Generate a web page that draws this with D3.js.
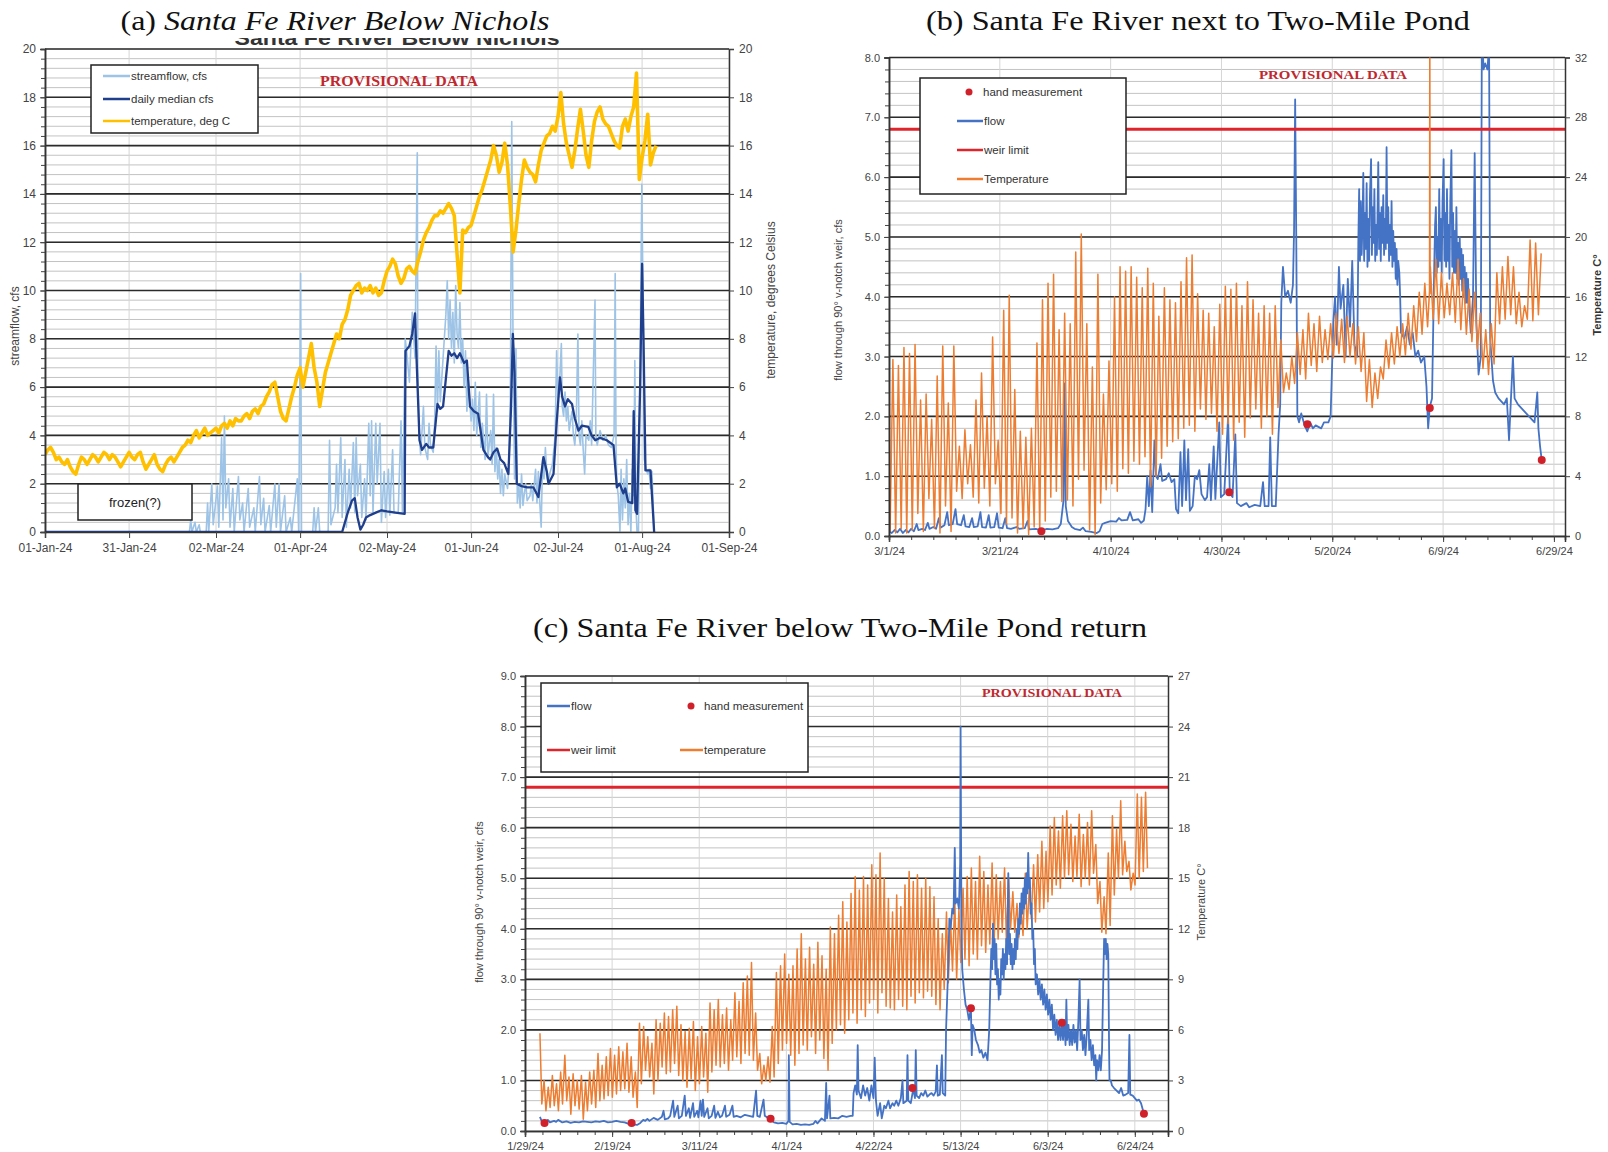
<!DOCTYPE html>
<html>
<head>
<meta charset="utf-8">
<script src="https://cdn.jsdelivr.net/npm/d3@7"></script>
<style>
  body { margin: 0; background: #fff; }
  svg { display: block; }
</style>
</head>
<body>
<div id="chart"></div>
<script>
const parse = d3.timeParse("%Y-%m-%d");
const DAY = 864e5;

// ---------- (a) Santa Fe River Below Nichols (day offsets from 1 Jan 2024) ----------
const ticksA = ["2024-01-01","2024-01-31","2024-03-02","2024-04-01","2024-05-02","2024-06-01","2024-07-02","2024-08-01","2024-09-01"];
// daily water temperature, deg C
const tempA = [
  3.2,3.4,3.5,3.3,3.0,3.1,2.9,2.8,3.0,2.7,
  2.5,2.4,2.8,3.1,3.0,2.8,3.0,3.2,3.1,2.9,
  3.1,3.3,3.2,3.0,3.2,3.1,2.9,2.7,2.9,3.1,
  3.3,3.1,3.0,3.2,3.3,2.9,2.6,2.8,3.0,3.2,
  2.8,2.6,2.5,2.8,3.0,3.1,2.9,3.1,3.3,3.5,
  3.6,3.8,3.7,4.0,4.2,3.9,4.1,4.3,4.0,4.1,
  4.2,4.3,4.1,4.4,4.5,4.3,4.6,4.4,4.7,4.6,
  4.6,4.8,4.9,4.7,5.0,5.1,4.9,5.2,5.3,5.6,
  5.8,6.1,6.2,5.6,5.0,4.7,4.6,5.1,5.6,6.0,
  6.5,6.8,6.0,6.6,7.2,7.8,6.8,6.2,5.2,5.9,
  6.6,7.0,7.4,7.8,8.2,8.0,8.6,8.8,9.2,9.8,
  10.0,10.2,10.3,9.9,10.1,10.0,10.2,9.9,10.1,9.8,
  9.9,10.4,10.8,11.0,11.3,11.1,10.6,10.3,10.5,10.9,
  11.0,10.8,10.7,11.2,11.6,12.1,12.4,12.6,12.9,13.1,
  13.1,13.3,13.2,13.4,13.6,13.4,13.1,11.5,9.9,12.5,
  12.4,12.6,12.7,13.1,13.5,13.9,14.2,14.6,15.0,15.4,
  16.0,15.6,14.9,15.3,16.1,15.2,13.5,11.6,12.5,13.6,
  14.6,15.4,15.1,14.9,14.8,14.5,15.2,15.8,16.1,16.4,
  16.5,16.8,16.6,17.2,18.2,16.9,16.1,15.6,15.1,15.8,
  16.7,17.5,16.6,15.6,15.1,16.2,17.0,17.4,17.6,17.1,
  16.9,16.8,16.5,16.2,16.0,15.9,16.8,17.1,16.6,17.2,
  17.6,19.0,14.6,15.5,16.2,17.3,15.2,15.7,16.0
];
// streamflow, cfs [day, value]
const streamA = [
  [0,0],[51.5,0],[52,0.5],[52.4,0],[53.5,0.4],[54,0],[55,0.3],[55.4,0],[57.5,0],[58,1.2],[58.4,0],
  [59.5,2.0],[60,0.3],[61.5,1.9],[62,0.2],[63,3.9],[63.5,0.5],[64,4.8],[64.5,1.0],[65.5,2.2],[66,0.2],
  [67,1.8],[67.5,0],[69,2.3],[69.5,0.5],[70.5,1.2],[71,0],[72.5,1.8],[73,0.2],[74.5,1.0],[75,0],
  [76.5,2.3],[77,0.3],[78,1.4],[78.5,0],[80,1.1],[80.5,0],[82,2.0],[82.5,0.2],[83.5,2.0],[84,0],
  [85.5,1.5],[86,0],[87.5,0.6],[88,0],[90,2.2],[90.5,0],[91.2,10.7],[91.5,0],[95.5,0],[96,1.0],
  [96.5,0],[97.5,1.0],[98,0],[101,0],[101.5,3.8],[102,0.3],[103.5,1.0],[104,2.8],[104.5,0.8],
  [105.5,3.9],[106,0.6],[107,3.0],[107.5,0.2],[108.5,2.6],[109,1.0],[110,3.7],[110.5,0.8],[111,3.9],
  [111.5,1.5],[112.5,2.8],[113,0.6],[114,2.2],[114.5,0.5],[115.5,4.5],[116,1.5],[116.5,4.6],[117,0.8],
  [118,4.5],[118.5,2.0],[119.5,4.5],[120,0.4],[121,2.5],[121.5,0.6],[122.5,2.6],[123,0.7],[124,3.4],
  [124.5,0.8],[126,0.8],[127,4.6],[127.5,0.8],[128.5,8.0],[129,7.5],[130,6.2],[131,9.1],[132,7.2],
  [132.8,15.7],[133,6.6],[133.5,4.0],[134,3.2],[135,5.2],[135.5,3.5],[136.5,3.0],[137,4.5],[137.5,3.6],
  [138.5,3.3],[139,4.5],[139.5,7.7],[140,5.0],[140.5,7.5],[141,5.4],[142,7.2],[143,9.0],[143.5,10.4],
  [144,8.0],[144.5,9.6],[145,7.6],[145.5,9.1],[146,7.0],[146.5,10.2],[147,8.2],[147.5,7.6],[148,9.5],
  [148.5,7.0],[149,8.0],[149.5,6.0],[150,7.5],[150.5,5.0],[151,6.3],[152,4.6],[152.5,5.5],[153,4.2],
  [153.5,6.2],[154,4.0],[155,5.8],[155.5,3.5],[156,4.5],[157,3.0],[157.5,5.7],[158,3.1],[159,4.2],
  [159.5,2.8],[160,5.7],[160.5,2.5],[161,3.5],[161.5,2.2],[162,3.0],[162.5,1.6],[163,2.6],[163.5,1.5],
  [164,2.4],[165,1.8],[165.5,2.8],[166,5.5],[166.5,17.0],[167,7.0],[167.5,2.2],[168,7.6],[168.5,1.2],
  [169,2.0],[169.5,1.0],[170,2.4],[170.5,1.1],[171,1.6],[171.5,2.0],[172,1.3],[173,1.5],[173.5,2.0],
  [174,1.3],[175,2.6],[175.5,1.2],[176,2.5],[176.5,1.2],[177,0.2],[177.5,3.0],[178,2.2],[178.5,3.5],
  [179,2.4],[179.5,2.0],[180,2.4],[181,2.8],[182,4.0],[182.5,7.5],[183,5.5],[183.5,6.0],[184.2,7.8],
  [184.5,5.2],[185,4.8],[185.5,5.8],[186,4.6],[186.5,5.2],[187,4.2],[188,5.0],[188.5,4.0],[189,3.6],
  [189.5,4.5],[190.1,8.2],[190.5,4.0],[191,3.6],[191.5,4.6],[192,3.4],[192.5,2.4],[193,4.0],[194,3.8],
  [194.5,4.6],[195,3.6],[196.2,9.6],[196.5,4.0],[197,3.6],[198,4.2],[199,3.8],[200,4.0],[201,3.6],
  [202,3.5],[203,4.0],[203.4,10.7],[203.7,3.5],[204,2.0],[204.5,1.5],[205.1,0],[205.5,2.6],[206,0.5],
  [206.5,2.2],[207,1.0],[207.5,3.0],[208,0.3],[208.5,1.6],[209,0.0],[209.5,2.6],[210,1.5],[210.4,7.1],
  [210.8,1.0],[211.2,0],[211.7,0],[212.3,7.0],[212.9,14.4],[213.3,10],[213.8,3.0],[214.5,2.6],[215,2.4],
  [215.5,2.6],[216,1.8],[216.5,2.5],[217,1.0],[217.3,0]
];
// daily median, cfs [day, value]
const medianA = [
  [0,0],[106,0],[108,0.8],[109.5,1.3],[110.5,1.4],[111.5,0.6],[112.5,0.1],[113.5,0.3],[114.5,0.6],
  [116,0.7],[118,0.8],[120,0.9],[122,0.85],[125,0.8],[128.3,0.75],[128.6,7.5],[130,7.7],[131,8.2],
  [132,9.05],[132.6,7.0],[133.6,3.8],[134.5,3.4],[136,3.65],[137,3.5],[138.5,3.5],[140,5.3],[141,5.1],
  [142,5.2],[144,7.5],[145,7.3],[146,7.4],[147,7.2],[148,7.4],[149.5,7.0],[150.5,7.1],[151.6,5.2],
  [153,5.0],[154.5,4.9],[156.4,3.4],[158,3.1],[158.8,3.0],[160,3.3],[161.3,3.45],[162.5,3.0],[163.8,2.85],
  [165.3,2.4],[166.2,5.0],[166.9,8.2],[167.5,6.6],[168.3,2.0],[170,1.9],[172,1.85],[174.2,1.85],
  [176,1.45],[177.8,3.1],[179,2.5],[179.6,2.0],[181.4,2.4],[182.5,4.5],[183.7,6.4],[184.5,5.6],
  [185.5,5.2],[186.5,5.5],[188,5.3],[189,4.7],[190.3,4.2],[191.5,4.4],[193.8,4.35],[195,4.0],[196.3,3.8],
  [198,3.9],[200.4,3.8],[202.8,3.6],[204,1.85],[205,2.0],[206.3,1.6],[207,1.8],[208,1.25],[209.5,1.2],
  [210,5.0],[210.6,0.9],[211.2,0.75],[212.3,6],[213,11.1],[213.5,8],[214.2,2.55],[216,2.55],[217.3,0]
];

// ---------- (b) Santa Fe River next to Two-Mile Pond (day offsets from 1 Mar 2024) ----------
const ticksB = ["2024-03-01","2024-03-21","2024-04-10","2024-04-30","2024-05-20","2024-06-09","2024-06-29"];
// daily high / low water temperature, deg C
const tempBHi = [
  11.8,11.4,12.6,12.2,12.8,9.1,9.5,7.8,10.7,12.7,
  8.9,12.7,6.0,7.1,6.1,9.1,10.9,8.0,13.3,6.4,
  15.1,16.1,9.8,7.0,6.6,7.2,12.9,15.8,16.9,17.5,
  13.8,14.9,14.2,19.0,20.2,14.2,11.3,17.5,9.5,11.7,
  16.0,18.0,17.7,18.0,17.3,16.6,17.9,16.9,14.7,16.6,
  15.8,15.6,17.0,18.6,18.8,16.2,15.1,14.9,14.0,15.5,
  16.7,16.5,16.9,15.4,17.0,15.8,14.9,15.4,14.9,15.4,
  13.1,10.9,12.0,13.6,13.8,14.9,14.2,14.7,13.8,14.2,
  14.9,14.5,14.7,14.2,14.0,13.6,11.8,10.9,11.3,13.1,
  13.6,14.0,14.2,14.9,15.4,16.3,16.9,18.0,18.5,17.6,
  16.9,17.6,18.5,17.2,16.5,16.3,14.9,13.8,14.2,17.6,
  18.0,18.7,18.0,16.3,15.4,19.8,19.6,18.9
];
const tempBLo = [
  0.3,0.2,0.5,0.2,0.4,1.5,0.3,2.5,0.5,0.2,
  2.0,0.3,3.0,2.5,3.5,2.6,2.2,3.2,2.0,3.5,
  1.5,0.8,1.2,0.2,0.5,0.1,0.6,0.3,1.0,2.6,
  3.0,2.3,2.4,2.0,3.8,4.4,0.4,0.1,2.2,3.1,
  3.5,3.0,4.5,4.2,5.0,4.8,5.3,3.3,4.0,5.2,
  6.0,6.3,6.5,7.2,7.4,7.0,8.5,7.8,8.2,7.0,
  6.8,7.5,6.4,7.6,6.6,7.9,8.5,7.2,8.0,6.8,
  8.6,9.6,9.8,10.2,10.8,10.5,11.4,11.0,11.6,11.8,
  11.9,12.2,11.6,12.0,11.5,11.0,9.0,8.6,9.2,10.5,
  11.2,11.5,12.0,12.1,12.5,13.0,13.5,14.0,14.5,14.2,
  14.6,14.8,14.3,13.8,13.5,13.0,12.5,11.2,10.8,11.5,
  14.2,14.5,14.8,14.2,14.0,14.5,14.4,14.8
];
const tempBSpike = [[97.55,16.4],[97.6,36],[97.66,16.2]];
// flow through weir, cfs [day, value]
const flowB = [
  [0,0.08],[0.5,0.05],[1,0.1],[1.5,0.06],[2,0.12],[2.5,0.05],[3,0.1],[3.5,0.06],[4,0.12],[4.5,0.08],
  [5,0.2],[5.3,0.1],[6,0.12],[6.5,0.1],[7,0.22],[7.3,0.12],[8,0.15],[8.5,0.12],[9,0.3],[9.3,0.14],
  [10,0.18],[10.5,0.4],[10.8,0.18],[11.5,0.2],[12,0.45],[12.3,0.2],[13,0.18],[13.5,0.35],[13.8,0.16],
  [14.5,0.15],[15,0.3],[15.3,0.15],[16,0.16],[16.5,0.4],[16.8,0.15],[17.5,0.14],[18,0.35],[18.3,0.14],
  [19,0.15],[19.5,0.38],[19.8,0.14],[20.5,0.13],[21,0.3],[21.3,0.13],[22,0.12],[23,0.15],[23.5,0.12],
  [24.5,0.13],[25,0.25],[25.3,0.11],[26.5,0.12],[27.5,0.09],[28.5,0.12],[29.5,0.11],[30.5,0.13],[31,0.2],
  [31.5,0.6],[31.7,2.55],[31.9,0.5],[32.3,0.25],[33,0.15],[33.5,0.12],[34.5,0.1],[35,0.14],[35.5,0.08],
  [36.5,0.07],[37.5,0.05],[38,0.08],[38.5,0.2],[39,0.22],[40,0.25],[41,0.24],[41.5,0.3],[42,0.26],
  [43,0.27],[43.5,0.4],[44,0.26],[45,0.28],[45.5,0.22],[46,0.26],[46.3,0.45],[46.6,1.0],[46.9,0.5],
  [47.2,1.1],[47.5,0.4],[47.9,1.6],[48.2,1.0],[48.5,0.95],[49,1.2],[49.3,0.92],[50,0.95],[50.5,1.05],
  [51,0.9],[51.5,0.95],[51.8,0.45],[52.2,0.38],[52.6,1.4],[52.9,0.5],[53.3,1.6],[53.6,0.6],[54,1.45],
  [54.3,0.42],[54.8,0.5],[55.2,1.0],[55.6,0.95],[56,1.1],[56.4,0.7],[57,0.6],[57.4,0.65],[57.8,1.2],
  [58.1,0.6],[58.6,1.5],[58.9,0.62],[59.6,1.9],[59.9,0.65],[60.5,0.7],[61.2,2.0],[61.5,0.72],[62,0.65],
  [62.5,1.7],[62.8,0.55],[63.5,0.5],[64.5,0.55],[65,0.48],[66,0.52],[67,0.5],[67.5,0.9],[67.8,0.5],
  [68.5,0.5],[68.8,1.65],[69.1,0.5],[69.8,0.5],[70.3,1.7],[70.6,2.2],[70.8,3.9],[71.1,4.5],[71.5,4.0],
  [72,4.1],[72.5,3.9],[72.9,4.2],[73.1,5.1],[73.3,7.3],[73.5,5.0],[73.7,2.0],[74,1.9],[74.4,2.05],
  [75,1.85],[75.5,1.75],[76,1.9],[76.5,1.8],[77,1.85],[78,1.8],[78.5,1.9],[79.3,1.9],[79.7,2.0],
  [80.2,3.6],[80.5,4.0],[80.8,3.2],[81.2,4.5],[81.5,3.8],[82,4.2],[82.4,3.0],[82.8,4.3],[83.2,3.5],
  [83.6,4.6],[84,3.2],[84.5,3.0],[84.7,4.9],[84.85,5.8],[85,4.6],[85.15,5.6],[85.3,4.7],[85.45,5.2],
  [85.6,6.07],[85.75,4.6],[85.9,5.4],[86.05,4.8],[86.2,5.9],[86.35,4.5],[86.5,5.3],[86.65,4.6],[86.8,5.7],
  [87,6.3],[87.15,4.7],[87.3,5.5],[87.45,4.9],[87.6,5.8],[87.75,4.6],[87.9,5.2],[88.05,4.7],[88.2,5.6],
  [88.3,6.25],[88.45,4.8],[88.6,5.4],[88.75,4.6],[88.9,5.5],[89.05,4.9],[89.2,5.7],[89.35,4.7],[89.5,5.3],
  [89.65,4.8],[89.8,6.5],[89.95,4.9],[90.1,5.5],[90.25,4.6],[90.4,5.2],[90.55,4.7],[90.7,5.6],[90.85,4.5],
  [91,5.1],[91.15,4.6],[91.3,4.9],[91.45,4.3],[91.6,4.8],[91.75,4.2],[91.9,4.6],[92.1,4.4],[92.25,4.0],
  [92.4,3.4],[93,3.3],[93.5,3.5],[94,3.2],[94.5,3.4],[95,3.0],[95.5,3.1],[96,2.9],[96.6,3.0],[97,2.5],
  [97.3,1.8],[97.6,2.16],[98,2.3],[98.4,4.5],[98.55,5.2],[98.7,5.5],[98.85,4.4],[99,5.0],[99.15,4.5],
  [99.3,5.8],[99.45,4.6],[99.6,5.3],[99.75,4.4],[99.9,5.6],[100.1,6.3],[100.25,4.6],[100.4,5.4],
  [100.55,4.5],[100.7,5.8],[100.85,4.6],[101,5.2],[101.15,4.3],[101.3,5.6],[101.5,6.45],[101.65,4.5],
  [101.8,5.4],[101.95,4.4],[102.1,5.1],[102.25,4.4],[102.4,5.5],[102.55,4.3],[102.7,4.9],[102.85,4.2],
  [103,5.0],[103.15,4.3],[103.3,4.8],[103.45,4.1],[103.6,4.7],[103.75,4.0],[103.9,4.5],[104.05,3.9],
  [104.2,4.4],[104.35,3.9],[104.5,4.3],[104.6,4.0],[105,3.4],[105.4,4.0],[105.7,6.4],[106,3.6],
  [106.4,2.7],[106.8,3.0],[107,8.5],[107.3,7.8],[107.6,7.9],[108,7.8],[108.3,8.2],[108.5,3.3],[109,2.6],
  [109.4,2.4],[110,2.3],[110.5,2.25],[111,2.2],[111.5,2.3],[111.9,1.6],[112.2,2.2],[112.6,3.0],[112.9,2.3],
  [113.5,2.2],[114,2.15],[114.5,2.1],[115,2.05],[115.5,2.0],[116,1.95],[116.5,1.9],[117,2.4],[117.2,1.8],
  [117.5,1.5],[117.8,1.27]
];
const handB = [[27.5,0.08],[61.4,0.73],[75.5,1.87],[97.6,2.14],[117.8,1.27]];
const weirLimit = 6.8;

// ---------- (c) Santa Fe River below Two-Mile Pond return (day offsets from 29 Jan 2024) ----------
const ticksC = ["2024-01-29","2024-02-19","2024-03-11","2024-04-01","2024-04-22","2024-05-13","2024-06-03","2024-06-24"];
const tempCFirstDay = 3;
const tempCHi = [
  5.8,3.0,2.6,3.3,2.8,3.5,4.5,3.2,3.4,3.0,
  3.3,2.9,3.5,3.6,4.6,3.9,4.4,4.9,4.5,5.0,
  4.7,5.2,4.4,3.5,6.4,6.2,5.6,5.2,6.6,6.4,
  7.0,6.8,7.2,7.4,6.3,5.9,6.1,6.5,5.6,6.2,
  5.8,7.6,7.2,7.8,6.9,7.3,6.6,8.2,7.7,8.8,
  9.2,10.0,7.0,4.6,3.9,4.4,6.2,9.4,9.8,10.5,
  9.3,9.8,10.8,11.7,10.2,10.9,9.9,11.2,10.4,9.6,
  12.1,11.7,12.8,13.6,12.4,14.1,15.1,14.3,15.1,14.6,
  15.8,15.2,16.5,15.0,13.8,13.0,14.0,13.3,14.6,15.4,
  14.8,15.2,14.4,15.0,14.5,13.9,12.6,11.7,13.0,12.4,
  13.8,13.2,14.4,15.1,15.6,14.8,16.3,15.4,14.6,15.9,
  15.2,14.8,15.6,15.0,14.2,13.5,13.2,15.3,14.6,15.8,
  16.4,17.2,16.6,18.1,18.6,17.8,18.7,19.0,18.2,17.5,
  18.8,17.6,18.3,19.0,17.0,14.8,13.9,16.5,18.7,17.9,
  19.6,17.2,16.0,15.3,20.0,19.8,20.1
];
const tempCLo = [
  1.6,1.2,1.4,1.5,1.2,1.6,1.8,1.0,1.5,1.3,
  0.7,1.2,1.6,1.4,1.8,1.9,2.1,2.0,2.2,2.4,
  2.5,2.3,2.0,1.4,2.8,3.6,3.2,2.2,3.0,3.8,
  3.4,3.5,4.0,3.3,3.0,2.6,3.1,2.4,2.8,3.2,
  2.3,3.5,3.9,3.8,4.0,3.6,4.2,4.4,4.0,4.6,
  4.5,4.2,3.6,2.8,3.0,2.9,3.2,4.0,4.8,5.2,
  4.5,3.9,4.6,5.1,4.8,5.6,4.6,5.4,4.3,3.6,
  5.2,6.0,6.3,5.8,6.6,7.0,6.4,7.2,6.8,7.6,
  7.8,7.0,8.2,7.4,7.3,7.2,7.8,7.4,7.2,8.0,
  7.6,8.2,7.9,8.3,8.0,7.5,7.2,8.4,8.8,9.5,
  9.0,10.0,10.2,9.8,10.5,10.2,11.0,10.6,11.1,10.9,
  11.4,11.8,11.2,12.0,11.8,11.5,11.6,12.0,12.6,12.4,
  13.0,13.2,13.6,14.0,14.6,14.4,15.0,15.2,14.8,15.1,
  14.5,15.0,14.6,15.3,13.5,11.8,11.7,12.2,14.0,15.0,
  15.2,15.4,14.3,14.6,15.0,15.4,15.6
];
const flowC = [
  [3.6,0.28],[4,0.2],[5,0.18],[5.5,0.22],[6,0.17],[7,0.2],[7.5,0.18],[8,0.22],[9,0.17],[10,0.19],
  [11,0.16],[12,0.18],[13,0.17],[14,0.19],[15,0.18],[16,0.17],[17,0.19],[18,0.18],[19,0.2],[20,0.17],
  [21,0.18],[22,0.2],[23,0.18],[24,0.17],[25,0.14],[26,0.13],[27,0.12],[27.8,0.16],[28.5,0.22],[29,0.2],
  [29.5,0.24],[30,0.2],[31,0.26],[32,0.22],[33,0.28],[33.4,0.4],[33.7,0.23],[34.5,0.25],[35,0.3],
  [35.7,0.6],[36,0.28],[36.8,0.5],[37.1,0.25],[37.8,0.3],[38.5,0.7],[38.8,0.3],[39.5,0.45],[39.8,0.26],
  [40.5,0.55],[40.8,0.28],[41.5,0.4],[41.8,0.27],[42.3,0.6],[42.6,0.3],[42.9,0.62],[43.2,0.28],[44,0.45],
  [44.3,0.25],[45,0.3],[45.6,0.5],[45.9,0.26],[46.5,0.38],[47,0.27],[47.5,0.3],[48.2,0.5],[48.5,0.28],
  [49.3,0.32],[50,0.5],[50.3,0.28],[51,0.3],[52,0.27],[53,0.32],[54,0.3],[55,0.28],[55.7,0.8],[56,0.3],
  [56.6,0.28],[57.5,0.62],[57.8,0.3],[58.5,0.26],[59.1,0.23],[60,0.17],[61,0.15],[62,0.16],[63,0.14],
  [63.5,0.2],[63.6,1.5],[63.8,0.18],[64.5,0.13],[65.5,0.14],[66.5,0.12],[67.5,0.13],[68.5,0.12],
  [69.5,0.14],[70,0.2],[70.5,0.15],[71.5,0.25],[72.3,0.2],[72.6,0.95],[72.8,0.25],[73.4,0.7],[73.6,0.25],
  [74.5,0.26],[75.5,0.25],[76.5,0.3],[77.5,0.28],[78.5,0.3],[79,0.3],[79.2,0.75],[79.6,0.9],[80,0.72],
  [80.2,1.7],[80.4,0.8],[81,0.65],[81.5,0.9],[82,0.7],[82.5,0.85],[83,0.6],[83.5,0.9],[84,0.65],
  [84.3,1.45],[84.6,0.6],[85,0.3],[85.6,0.55],[86,0.25],[86.6,0.5],[87,0.45],[87.6,0.6],[88,0.45],
  [88.6,0.55],[89,0.5],[89.5,0.6],[90,0.5],[90.6,0.65],[91,1.0],[91.2,0.55],[92,0.6],[92.2,1.5],
  [92.4,0.6],[93,0.55],[93.6,0.84],[94,0.65],[94.2,1.6],[94.4,0.7],[95,0.65],[95.5,0.75],[96,0.7],
  [96.5,0.8],[97,0.68],[97.5,0.72],[98,0.75],[98.5,0.7],[99,0.78],[99.3,1.3],[99.5,0.7],[100,0.72],
  [100.5,1.5],[100.7,0.75],[101.3,0.7],[101.5,2.0],[102,3.2],[102.3,4.2],[102.6,4.0],[103,4.4],
  [103.3,4.3],[103.6,5.6],[103.8,4.5],[104.2,4.6],[104.6,4.4],[104.9,5.3],[105,8.0],[105.2,4.2],
  [105.4,3.2],[105.8,2.8],[106.2,2.5],[106.6,2.4],[107,2.2],[107.5,2.42],[107.7,1.5],[107.9,2.1],
  [108.3,2.0],[108.7,1.8],[109.2,1.7],[109.6,1.55],[110,1.6],[110.5,1.45],[111,1.55],[111.5,1.4],
  [111.9,2.0],[112.2,3.0],[112.4,3.6],[112.6,3.2],[112.8,4.1],[113,3.4],[113.2,3.8],[113.4,3.1],
  [113.6,3.7],[113.8,2.9],[114,3.2],[114.2,2.6],[114.4,3.0],[114.6,2.7],[114.8,3.4],[115,3.1],[115.2,3.6],
  [115.4,3.0],[115.6,3.5],[115.8,3.2],[116,3.8],[116.2,3.3],[116.5,5.1],[116.7,3.5],[116.9,3.9],
  [117.1,3.3],[117.3,3.7],[117.5,3.2],[117.7,3.6],[117.9,3.3],[118.1,3.8],[118.3,3.4],[118.5,4.0],
  [118.7,3.6],[118.9,4.2],[119.1,3.9],[119.3,4.5],[119.5,4.1],[119.7,4.7],[119.9,4.3],[120.1,4.8],
  [120.3,4.4],[120.5,5.0],[120.7,4.5],[120.9,5.1],[121.1,4.7],[121.3,5.5],[121.5,4.8],[121.7,5.0],
  [121.9,4.3],[122.1,4.5],[122.3,3.8],[122.5,4.0],[122.7,3.3],[122.9,3.6],[123.1,2.9],[123.4,3.1],
  [123.7,2.7],[124,3.0],[124.3,2.6],[124.6,2.9],[124.9,2.5],[125.2,2.8],[125.5,2.4],[125.8,2.7],
  [126.1,2.3],[126.4,2.6],[126.7,2.2],[127,2.5],[127.3,2.0],[127.6,2.3],[127.9,1.9],[128.2,2.2],
  [128.5,1.8],[128.8,2.1],[129.1,1.8],[129.4,2.13],[129.7,1.8],[130,2.2],[130.3,1.7],[130.5,2.6],
  [130.7,1.8],[131,2.1],[131.3,1.7],[131.6,2.0],[131.9,1.7],[132.2,2.1],[132.5,1.75],[132.8,2.0],
  [133.1,1.6],[133.4,2.2],[133.7,3.0],[133.9,1.8],[134.2,2.0],[134.5,1.6],[134.8,1.9],[135.1,1.5],
  [135.4,1.9],[135.8,2.6],[136,1.6],[136.3,1.8],[136.6,1.4],[136.9,1.7],[137.2,1.3],[137.5,1.5],
  [137.7,1.0],[137.9,1.4],[138.2,1.2],[138.5,1.5],[138.8,1.2],[139.1,1.6],[139.4,3.0],[139.6,3.8],
  [139.8,3.5],[140,3.8],[140.2,3.4],[140.4,3.7],[140.6,3.5],[140.8,1.6],[140.9,1.0],[141.2,1.0],
  [141.5,0.9],[142,0.85],[142.6,0.8],[143.2,0.75],[143.7,0.85],[144.2,0.7],[144.8,0.72],[145.4,0.75],
  [145.7,1.9],[145.9,0.72],[146.5,0.7],[147,0.65],[147.5,0.6],[148,0.62],[148.5,0.55],[149,0.4],[149.3,0.32]
];
const handC = [[4.7,0.16],[25.7,0.16],[59.2,0.24],[93.4,0.85],[107.5,2.43],[129.4,2.14],[149.2,0.34]];

// ---------- colours ----------
const cGold = "#ffc000", cLight = "#9dc3e6", cMedian = "#1f3e8c";
const cFlow = "#4472c4", cOrange = "#ed7d31", cWeir = "#e0242b", cDot = "#d0202a";

const svg = d3.select("#chart").append("svg")
  .attr("width", 1608).attr("height", 1152)
  .style("background", "#fff");

// daily high/low pairs turned into a line through the day
function diurnal(hi, lo, firstDay, hiFirst) {
  const pts = [];
  hi.forEach((h, i) => {
    const d = firstDay + i;
    if (hiFirst) { pts.push([d + 0.6, h]); pts.push([d + 1.05, lo[i]]); }
    else { pts.push([d + 0.2, lo[i]]); pts.push([d + 0.7, h]); }
  });
  return pts;
}

class RiverPanel {
  constructor(_svg, _cfg) {
    this.svg = _svg;
    this.cfg = _cfg;
    this.initVis();
  }

  initVis() {
    let vis = this, c = vis.cfg;
    vis.g = vis.svg.append("g");
    vis.x = d3.scaleTime().domain([c.start, c.end]).range([c.left, c.right]);
    vis.y = d3.scaleLinear().domain([0, c.yMax]).range([c.bottom, c.top]);
    vis.yR = d3.scaleLinear().domain([0, c.yRMax]).range([c.bottom, c.top]);

    vis.g.append("clipPath").attr("id", "clip-" + c.id)
      .append("rect")
      .attr("x", c.left).attr("y", c.top)
      .attr("width", c.right - c.left).attr("height", c.bottom - c.top);

    vis.drawGrid();
    vis.plot = vis.g.append("g").attr("clip-path", "url(#clip-" + c.id + ")");
  }

  date(d) { return new Date(this.cfg.start.getTime() + d * DAY); }

  drawGrid() {
    let vis = this, c = vis.cfg;
    const grid = vis.g.append("g");
    const nMinor = Math.round(c.yMax / c.minorStep);
    const minorVals = d3.range(0, nMinor + 1).map(i => i * c.minorStep);
    const nMajor = Math.round(c.yMax / c.majorStep);
    const majorVals = d3.range(0, nMajor + 1).map(i => i * c.majorStep);

    grid.selectAll("line.minor").data(minorVals).join("line").attr("class", "minor")
      .attr("x1", c.left).attr("x2", c.right)
      .attr("y1", d => vis.y(d)).attr("y2", d => vis.y(d))
      .attr("stroke", "#c3c3c3").attr("stroke-width", 1);

    grid.selectAll("line.vert").data(c.ticks).join("line").attr("class", "vert")
      .attr("x1", d => vis.x(d)).attr("x2", d => vis.x(d))
      .attr("y1", c.top).attr("y2", c.bottom)
      .attr("stroke", "#d6d6d6").attr("stroke-width", 1);

    grid.selectAll("line.major").data(majorVals.slice(1)).join("line").attr("class", "major")
      .attr("x1", c.left).attr("x2", c.right)
      .attr("y1", d => vis.y(d)).attr("y2", d => vis.y(d))
      .attr("stroke", "#2b2b2b").attr("stroke-width", 1.6);

    vis.majorVals = majorVals;
    vis.minorVals = minorVals;
  }

  drawAxes() {
    let vis = this, c = vis.cfg;
    const style = (ax) => {
      ax.selectAll(".domain").attr("stroke", "#333").attr("stroke-width", 1.5);
      ax.selectAll(".tick line").attr("stroke", "#444");
      ax.selectAll("text").attr("fill", "#444")
        .style("font-family", "'Liberation Sans', Arial, sans-serif")
        .style("font-size", c.fontSize + "px");
    };

    vis.g.append("g").attr("transform", `translate(${c.left},0)`)
      .call(d3.axisLeft(vis.y).tickValues(vis.minorVals).tickFormat("").tickSize(4))
      .call(style);
    vis.g.append("g").attr("transform", `translate(${c.left},0)`)
      .call(d3.axisLeft(vis.y).tickValues(vis.majorVals).tickFormat(c.leftFmt).tickSize(5).tickPadding(4))
      .call(style);

    const nR = Math.round(c.yRMax / c.rightStep);
    vis.g.append("g").attr("transform", `translate(${c.right},0)`)
      .call(d3.axisRight(vis.yR).tickValues(d3.range(0, nR + 1).map(i => i * c.rightStep))
        .tickFormat(d3.format("d")).tickSize(5).tickPadding(5))
      .call(style);

    if (c.xMinorDays) {
      const minorDays = d3.range(0, (c.end - c.start) / DAY, c.xMinorDays).map(d => vis.date(d));
      vis.g.append("g").attr("transform", `translate(0,${c.bottom})`)
        .call(d3.axisBottom(vis.x).tickValues(minorDays).tickFormat("").tickSize(4))
        .call(style);
    }
    vis.g.append("g").attr("transform", `translate(0,${c.bottom})`)
      .call(d3.axisBottom(vis.x).tickValues(c.ticks).tickFormat(c.xFmt).tickSize(6).tickPadding(5))
      .call(style);
  }

  line(pts, scale, color, width) {
    let vis = this;
    const gen = d3.line().x(d => vis.x(vis.date(d[0]))).y(d => scale(d[1]));
    vis.plot.append("path").datum(pts)
      .attr("d", gen).attr("fill", "none")
      .attr("stroke", color).attr("stroke-width", width)
      .attr("stroke-linejoin", "round");
  }

  hline(v, color, width) {
    let vis = this, c = vis.cfg;
    vis.plot.append("line")
      .attr("x1", c.left).attr("x2", c.right)
      .attr("y1", vis.y(v)).attr("y2", vis.y(v))
      .attr("stroke", color).attr("stroke-width", width);
  }

  dots(pts, color) {
    let vis = this;
    vis.g.selectAll(null).data(pts).join("circle")
      .attr("cx", d => vis.x(vis.date(d[0]))).attr("cy", d => vis.y(d[1]))
      .attr("r", 4).attr("fill", color);
  }

  text(x, y, str, opts) {
    const t = this.g.append("text").attr("x", x).attr("y", y).text(str)
      .attr("fill", opts.fill || "#444")
      .style("font-family", opts.family || "'Liberation Sans', Arial, sans-serif")
      .style("font-size", (opts.size || 11) + "px")
      .attr("text-anchor", opts.anchor || "start");
    if (opts.weight) t.style("font-weight", opts.weight);
    if (opts.rotate) t.attr("transform", `rotate(-90,${x},${y})`);
    if (opts.len) t.attr("textLength", opts.len).attr("lengthAdjust", "spacingAndGlyphs");
    return t;
  }

  legendBox(x, y, w, h) {
    this.g.append("rect").attr("x", x).attr("y", y).attr("width", w).attr("height", h)
      .attr("fill", "#fff").attr("stroke", "#222").attr("stroke-width", 1.5);
  }

  legendLine(x1, x2, y, color, label) {
    this.g.append("line").attr("x1", x1).attr("x2", x2).attr("y1", y).attr("y2", y)
      .attr("stroke", color).attr("stroke-width", 2.5);
    this.text(x2 + 1, y + 4, label, { size: 11.5, fill: "#333" });
  }

  legendDot(cx, y, color, label, tx) {
    this.g.append("circle").attr("cx", cx).attr("cy", y).attr("r", 3.5).attr("fill", color);
    this.text(tx, y + 4, label, { size: 11.5, fill: "#333" });
  }
}

const serif = "'Liberation Serif', 'Times New Roman', serif";

// ================= panel (a) =================
const pa = new RiverPanel(svg, {
  id: "a", left: 45, right: 729, top: 49, bottom: 532,
  start: parse("2024-01-01"), end: parse("2024-09-01"),
  yMax: 20, majorStep: 2, minorStep: 0.4, yRMax: 20, rightStep: 2,
  ticks: ticksA.map(parse), xFmt: d3.timeFormat("%d-%b-%y"),
  leftFmt: d3.format("d"), fontSize: 12
});
pa.line(streamA, pa.y, cLight, 1.6);
pa.line(medianA, pa.y, cMedian, 2.3);
pa.line(tempA.map((v, i) => [i, v]), pa.yR, cGold, 3.6);
pa.drawAxes();

// hidden original chart title, mostly covered by the caption
pa.text(397, 45, "Santa Fe River Below Nichols", { size: 20, weight: "bold", anchor: "middle", fill: "#333", len: 325 });
svg.append("rect").attr("x", 100).attr("y", 0).attr("width", 620).attr("height", 38).attr("fill", "#fff");

pa.legendBox(91, 65, 167, 68);
pa.legendLine(103, 130, 76, cLight, "streamflow, cfs");
pa.legendLine(103, 130, 99, cMedian, "daily median cfs");
pa.legendLine(103, 130, 121, cGold, "temperature, deg C");
pa.legendBox(78, 484, 114, 36);
pa.text(135, 507, "frozen(?)", { size: 13, anchor: "middle", fill: "#222" });
pa.text(399, 86, "PROVISIONAL DATA", { size: 14, family: serif, weight: "bold", fill: "#c0282e", anchor: "middle", len: 158 });
pa.text(19, 326, "streamflow, cfs", { size: 12, anchor: "middle", rotate: true });
pa.text(775, 300, "temperature, degrees Celsius", { size: 12, anchor: "middle", rotate: true });

const titleA = svg.append("text").attr("x", 335).attr("y", 30).attr("text-anchor", "middle")
  .style("font-family", serif).style("font-size", "28px").attr("fill", "#111")
  .attr("textLength", 429).attr("lengthAdjust", "spacingAndGlyphs");
titleA.append("tspan").text("(a) ");
titleA.append("tspan").style("font-style", "italic").text("Santa Fe River Below Nichols");

// ================= panel (b) =================
const pb = new RiverPanel(svg, {
  id: "b", left: 889, right: 1565, top: 57.5, bottom: 536,
  start: parse("2024-03-01"), end: parse("2024-07-01"),
  yMax: 8, majorStep: 1, minorStep: 0.2, yRMax: 32, rightStep: 4,
  ticks: ticksB.map(parse), xFmt: d3.timeFormat("%-m/%-d/%y"), xMinorDays: 4,
  leftFmt: d3.format(".1f"), fontSize: 11
});
const tempBLine = diurnal(tempBHi, tempBLo, 0, false).concat(tempBSpike).sort((p, q) => p[0] - q[0]);
pb.line(flowB, pb.y, cFlow, 1.8);
pb.hline(weirLimit, cWeir, 3);
pb.line(tempBLine, pb.yR, cOrange, 1.5);
pb.drawAxes();
pb.dots(handB, cDot);
pb.legendBox(920, 78, 206, 116);
pb.legendDot(969, 92, cDot, "hand measurement", 983);
pb.legendLine(957, 983, 121, cFlow, "flow");
pb.legendLine(957, 983, 150, cWeir, "weir limit");
pb.legendLine(957, 983, 179, cOrange, "Temperature");
pb.text(1333, 79, "PROVISIONAL DATA", { size: 13, family: serif, weight: "bold", fill: "#c0282e", anchor: "middle", len: 148 });
pb.text(842, 300, "flow through 90\u00b0 v-notch weir, cfs", { size: 11, anchor: "middle", rotate: true });
pb.text(1601, 295, "Temperature C\u00b0", { size: 11, anchor: "middle", rotate: true, weight: "bold", fill: "#333" });
pb.text(1198, 30, "(b) Santa Fe River next to Two-Mile Pond", { size: 28, family: serif, anchor: "middle", fill: "#111", len: 544 });

// ================= panel (c) =================
const pc = new RiverPanel(svg, {
  id: "c", left: 525, right: 1168, top: 676, bottom: 1131,
  start: parse("2024-01-29"), end: parse("2024-07-02"),
  yMax: 9, majorStep: 1, minorStep: 0.2, yRMax: 27, rightStep: 3,
  ticks: ticksC.map(parse), xFmt: d3.timeFormat("%-m/%-d/%y"), xMinorDays: 4.2,
  leftFmt: d3.format(".1f"), fontSize: 11
});
pc.hline(weirLimit, cWeir, 3);
pc.line(diurnal(tempCHi, tempCLo, tempCFirstDay, true), pc.yR, cOrange, 1.5);
pc.line(flowC, pc.y, cFlow, 1.8);
pc.drawAxes();
pc.dots(handC, cDot);
pc.legendBox(541, 683, 267, 89);
pc.legendLine(547, 570, 706, cFlow, "flow");
pc.legendDot(691, 706, cDot, "hand measurement", 704);
pc.legendLine(547, 570, 750, cWeir, "weir limit");
pc.legendLine(680, 703, 750, cOrange, "temperature");
pc.text(1052, 697, "PROVISIONAL DATA", { size: 13, family: serif, weight: "bold", fill: "#c0282e", anchor: "middle", len: 140 });
pc.text(483, 902, "flow through 90\u00b0 v-notch weir, cfs", { size: 11, anchor: "middle", rotate: true });
pc.text(1205, 902, "Temperature C\u00b0", { size: 11, anchor: "middle", rotate: true });
pc.text(840, 637, "(c) Santa Fe River below Two-Mile Pond return", { size: 28, family: serif, anchor: "middle", fill: "#111", len: 614 });
</script>
</body>
</html>
